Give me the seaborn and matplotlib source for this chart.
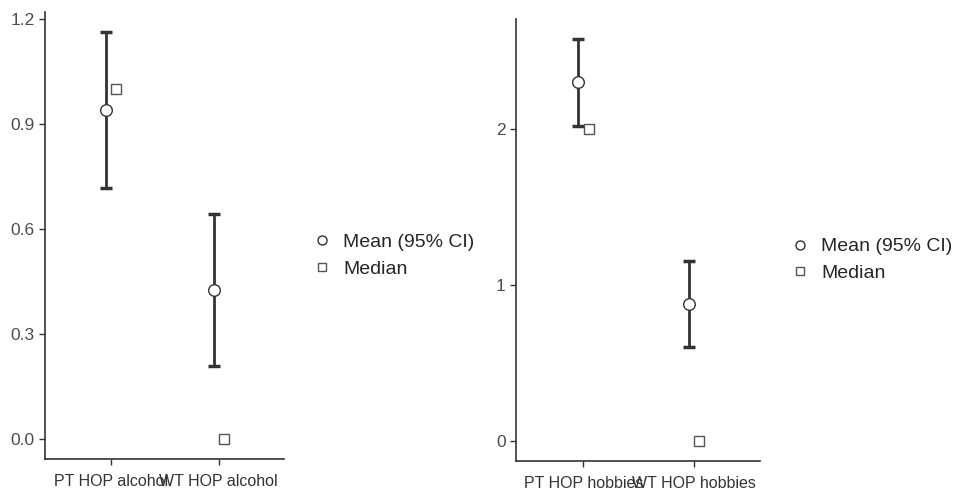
import numpy as np
import seaborn as sns
import matplotlib.pyplot as plt
from matplotlib.lines import Line2D
from matplotlib import font_manager

sns.set_style('white')
names = {f.name for f in font_manager.fontManager.ttflist}
fam = 'Liberation Sans Narrow' if 'Liberation Sans Narrow' in names else 'Liberation Sans'
plt.rcParams['font.family'] = [fam, 'DejaVu Sans']

# data
alcohol_groups = ['PT HOP alcohol', 'WT HOP alcohol']
alcohol_mean = [0.94, 0.426]
alcohol_lo = [0.717, 0.209]
alcohol_hi = [1.163, 0.643]
alcohol_median = [1.0, 0.0]

hobbies_groups = ['PT HOP hobbies', 'WT HOP hobbies']
hobbies_mean = [2.30, 0.878]
hobbies_lo = [2.02, 0.603]
hobbies_hi = [2.577, 1.154]
hobbies_median = [2.0, 0.0]

fig = plt.figure(figsize=(9.58, 4.97), dpi=100)
ax1 = fig.add_axes([0.047, 0.0765, 0.249, 0.8995])
ax2 = fig.add_axes([0.5386, 0.0724, 0.255, 0.8896])


def draw_panel(ax, groups, mean, lo, hi, med, yticks, ylim, leg_x):
    x = np.arange(len(groups))
    mean = np.array(mean)
    err = np.vstack([mean - np.array(lo), np.array(hi) - mean])
    ax.errorbar(x - 0.046, mean, yerr=err, fmt='none', ecolor='#333333',
                elinewidth=2, capsize=4.5, capthick=2.5, zorder=2)
    sns.scatterplot(x=x - 0.046, y=mean, ax=ax, marker='o', s=70,
                    facecolor='white', edgecolor='#333333', linewidth=1, zorder=3)
    sns.scatterplot(x=x + 0.05, y=med, ax=ax, marker='s', s=50,
                    facecolor='white', edgecolor='#555555', linewidth=1, zorder=3)
    ax.set_xlim(-0.61, 1.6)
    ax.set_ylim(*ylim)
    ax.set_xticks(x)
    ax.set_xticklabels(groups, fontsize=11.5, color='#333333')
    ax.set_yticks(yticks)
    ax.tick_params(axis='y', labelsize=12.5, labelcolor='#4d4d4d', length=4,
                   width=1, color='#333333', left=True)
    ax.tick_params(axis='x', length=4, width=1, color='#333333', bottom=True, pad=7)
    sns.despine(ax=ax)
    for s in ['left', 'bottom']:
        ax.spines[s].set_color('#333333')
        ax.spines[s].set_linewidth(1.2)
    handles = [
        Line2D([], [], marker='o', linestyle='none', markersize=6.5,
               markerfacecolor='white', markeredgecolor='#333333'),
        Line2D([], [], marker='s', linestyle='none', markersize=6,
               markerfacecolor='white', markeredgecolor='#555555'),
    ]
    ax.legend(handles, ['Mean (95% CI)', 'Median'], loc='center left',
              bbox_to_anchor=(leg_x, 0.455), frameon=False, fontsize=14,
              handletextpad=0.6, labelspacing=0.45, handlelength=1.0)


draw_panel(ax1, alcohol_groups, alcohol_mean, alcohol_lo, alcohol_hi,
           alcohol_median, [0.0, 0.3, 0.6, 0.9, 1.2], (-0.057, 1.22), 1.045)
ax1.set_yticklabels(['0.0', '0.3', '0.6', '0.9', '1.2'])
draw_panel(ax2, hobbies_groups, hobbies_mean, hobbies_lo, hobbies_hi,
           hobbies_median, [0, 1, 2], (-0.128, 2.705), 1.05)

fig.savefig('out.png', dpi=100)
